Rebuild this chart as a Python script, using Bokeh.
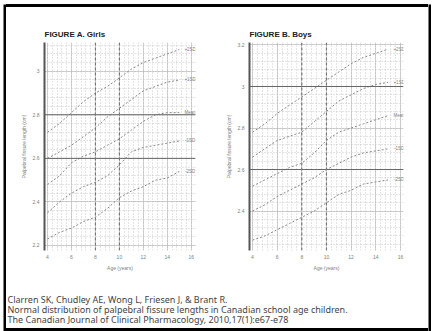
from bokeh.plotting import figure
from bokeh.models import Range1d, Span, Title, FixedTicker, ColumnDataSource, Div
from bokeh.layouts import row, column
from bokeh.embed import file_html
from bokeh.resources import INLINE
from bokeh.core.properties import value

# ---------------- data ----------------
ages = [4, 5, 6, 7, 8, 9, 10, 11, 12, 13, 14, 15]
curve_labels = ["+2SD", "+1SD", "Mean", "-1SD", "-2SD"]

girls_p2 = [2.72, 2.76, 2.81, 2.86, 2.90, 2.93, 2.97, 3.01, 3.04, 3.06, 3.08, 3.10]
girls_p1 = [2.60, 2.63, 2.66, 2.70, 2.74, 2.79, 2.83, 2.87, 2.91, 2.93, 2.95, 2.96]
girls_mean = [2.48, 2.52, 2.58, 2.61, 2.63, 2.66, 2.69, 2.73, 2.77, 2.80, 2.81, 2.81]
girls_m1 = [2.35, 2.40, 2.44, 2.47, 2.49, 2.52, 2.57, 2.63, 2.65, 2.66, 2.67, 2.68]
girls_m2 = [2.23, 2.26, 2.28, 2.31, 2.33, 2.37, 2.42, 2.45, 2.47, 2.50, 2.51, 2.54]

boys_p2 = [2.78, 2.82, 2.87, 2.91, 2.95, 2.99, 3.03, 3.07, 3.11, 3.14, 3.16, 3.18]
boys_p1 = [2.66, 2.70, 2.74, 2.76, 2.78, 2.83, 2.88, 2.93, 2.96, 2.99, 3.01, 3.02]
boys_mean = [2.52, 2.55, 2.58, 2.61, 2.63, 2.68, 2.74, 2.78, 2.80, 2.82, 2.84, 2.86]
boys_m1 = [2.40, 2.43, 2.47, 2.50, 2.53, 2.56, 2.60, 2.63, 2.66, 2.68, 2.69, 2.70]
boys_m2 = [2.26, 2.28, 2.31, 2.34, 2.37, 2.40, 2.44, 2.48, 2.50, 2.53, 2.54, 2.55]

x_ticks = [4, 6, 8, 10, 12, 14, 16]
girls_y_ticks = [2.2, 2.4, 2.6, 2.8, 3.0]
boys_y_ticks = [2.4, 2.6, 2.8, 3.0, 3.2]
girls_heavy_y = [2.6, 2.8]
boys_heavy_y = [2.6, 3.0]
heavy_x = [8, 10]

x_title = "Age (years)"
y_title = "Palpebral fissure length (cm)"
citation = [
    "Clarren SK, Chudley AE, Wong L, Friesen J, & Brant R.",
    "Normal distribution of palpebral fissure lengths in Canadian school age children.",
    "The Canadian Journal of Clinical Pharmacology, 2010,17(1):e67-e78",
]

FONT = "Liberation Sans"
TFONT = "Noto Sans"


def make_chart(title_text, series, yticks, heavy_y, xr, yr, width, height, mb):
    p = figure(width=width, height=height, x_range=Range1d(*xr), y_range=Range1d(*yr),
               output_backend="svg", toolbar_location=None,
               min_border_left=mb[0], min_border_right=mb[1],
               min_border_top=mb[2], min_border_bottom=mb[3])
    p.outline_line_color = None
    p.background_fill_color = "white"
    p.border_fill_color = "white"

    t = Title(text=title_text, align="left", text_font_size="8px",
              text_font_style="bold", text_color="#222222", text_font=FONT,
              standoff=8)
    p.add_layout(t, "above")

    p.xaxis.ticker = FixedTicker(ticks=x_ticks, minor_ticks=[x_ticks[0] + 0.4 * i for i in range(0, 33)])
    p.yaxis.ticker = FixedTicker(ticks=yticks,
                                 minor_ticks=[round(yticks[0] - 0.2 + 0.04 * i, 3) for i in range(0, 30)])

    for ax in (p.xaxis, p.yaxis):
        ax.major_label_text_font_size = "5px"
        ax.major_label_text_color = "#808080"
        ax.major_label_text_font = FONT
        ax.major_tick_line_color = None
        ax.minor_tick_line_color = None
        ax.major_tick_out = 0
        ax.major_tick_in = 0
        ax.minor_tick_out = 0
        ax.minor_tick_in = 0
        ax.axis_label_text_font_size = "5px"
        ax.axis_label_text_color = "#808080"
        ax.axis_label_text_font = FONT
        ax.axis_label_text_font_style = "normal"
    p.xaxis.axis_line_color = None
    p.yaxis.axis_line_color = "#555555"
    p.yaxis.axis_line_width = 2
    p.xaxis.axis_label = x_title
    p.yaxis.axis_label = y_title
    p.xaxis.major_label_standoff = 4
    p.yaxis.major_label_standoff = 5
    p.xaxis.axis_label_standoff = 3
    p.yaxis.axis_label_standoff = 3

    p.xgrid.grid_line_color = "#aaaaaa"
    p.xgrid.grid_line_dash = "1 1"
    p.xgrid.minor_grid_line_color = "#c8c8c8"
    p.xgrid.minor_grid_line_dash = "1 2"
    p.ygrid.grid_line_color = "#aaaaaa"
    p.ygrid.grid_line_dash = "1 1"
    p.ygrid.minor_grid_line_color = "#c8c8c8"
    p.ygrid.minor_grid_line_dash = "1 2"

    for hy in heavy_y:
        p.add_layout(Span(location=hy, dimension="width", line_color="#666666", line_width=1))
    for hx in heavy_x:
        p.add_layout(Span(location=hx, dimension="height", line_color="#777777",
                          line_width=1.2, line_dash="3 2"))

    end_y = []
    for vals in series:
        p.line(ages, vals, line_color="#888888", line_width=1, line_dash="2 2")
        end_y.append(vals[-1])
    src = ColumnDataSource(dict(x=[15.9] * len(series), y=end_y, t=curve_labels))
    p.text(x="x", y="y", text="t", source=src, text_font=value(FONT),
           text_font_size="4.5px", text_color="#808080", text_align="center",
           text_baseline="middle")
    return p


fa = make_chart("FIGURE A. Girls", [girls_p2, girls_p1, girls_mean, girls_m1, girls_m2],
                girls_y_ticks, girls_heavy_y, (3.75, 16.35), (2.177, 3.132),
                211, 275, (38, 22, 35, 30))
fb = make_chart("FIGURE B. Boys", [boys_p2, boys_p1, boys_mean, boys_m1, boys_m2],
                boys_y_ticks, boys_heavy_y, (3.757, 16.25), (2.21, 3.212),
                211, 275, (32, 25, 35, 32))

ft = figure(width=422, height=46, x_range=Range1d(0, 422), y_range=Range1d(46, 0),
            output_backend="svg", toolbar_location=None,
            min_border_left=0, min_border_right=0, min_border_top=0, min_border_bottom=0)
ft.axis.visible = False
ft.grid.visible = False
ft.outline_line_color = None
tsrc = ColumnDataSource(dict(x=[1, 1, 1], y=[17, 27, 37], t=citation))
ft.text(x="x", y="y", text="t", source=tsrc, text_font=value(TFONT), text_font_size="9px",
        text_color="#444444", text_baseline="middle")


def vbar_fig(w, h):
    b = figure(width=w, height=h, output_backend="svg", toolbar_location=None,
               min_border_left=0, min_border_right=0, min_border_top=0, min_border_bottom=0,
               x_range=Range1d(0, 1), y_range=Range1d(0, 1))
    b.axis.visible = False
    b.grid.visible = False
    b.outline_line_color = None
    b.background_fill_color = "black"
    b.border_fill_color = "black"
    return b


def hbar_div(w, h):
    return Div(text="", width=w, height=h, margin=0,
               styles={"background-color": "black", "width": f"{w}px", "height": f"{h}px"})


inner = column(hbar_div(422, 3), row(fa, fb), ft, hbar_div(422, 3))
page = row(vbar_fig(3, 327), inner, vbar_fig(3, 327), margin=(4, 0, 0, 3))

open("out.html", "w").write(file_html(page, INLINE))
